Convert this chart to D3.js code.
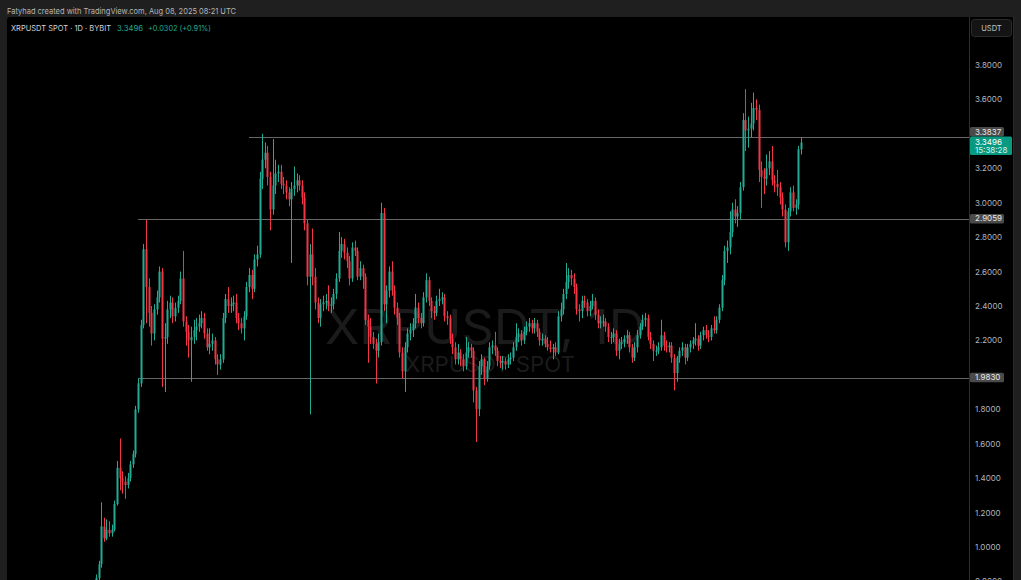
<!DOCTYPE html>
<html><head><meta charset="utf-8">
<script src="https://cdn.jsdelivr.net/npm/d3@7"></script>
<style>
body{margin:0;background:#1f1f1f;overflow:hidden;}
svg{display:block;font-family:Inter,"Liberation Sans",Arial,sans-serif;}
</style>
</head><body>
<svg id="chart" width="1021" height="580"></svg>
<script>
// ---- data (daily candles, XRPUSDT spot, Bybit) ----
const startDate = "2024-11-12";
const opens = [0.62,0.72,0.72,0.82,0.90,1.12,1.05,1.10,1.08,1.10,1.25,1.46,1.40,1.38,1.36,1.40,1.48,1.54,1.80,1.95,
2.29,2.73,2.51,2.36,2.24,2.38,2.45,2.60,2.21,2.22,2.38,2.42,2.34,2.39,2.43,2.56,2.31,2.25,2.20,2.22,
2.26,2.28,2.30,2.33,2.24,2.16,2.18,2.20,2.09,2.06,2.09,2.33,2.44,2.40,2.41,2.42,2.33,2.30,2.27,2.34,
2.51,2.58,2.50,2.67,2.70,3.14,3.25,3.29,3.15,2.96,3.10,3.17,3.18,3.11,3.10,3.06,3.02,3.08,3.10,3.13,
3.10,3.03,2.88,2.57,2.70,2.57,2.42,2.33,2.41,2.42,2.43,2.40,2.41,2.47,2.56,2.72,2.76,2.71,2.66,2.56,
2.74,2.72,2.57,2.62,2.57,2.32,2.28,2.22,2.18,2.14,2.19,2.94,2.41,2.49,2.60,2.49,2.39,2.33,2.13,2.02,
2.16,2.24,2.26,2.30,2.39,2.33,2.30,2.45,2.55,2.43,2.37,2.36,2.43,2.44,2.45,2.34,2.33,2.21,2.16,2.09,
2.13,2.09,2.05,2.13,2.16,2.14,1.91,1.80,2.05,2.09,1.98,2.05,2.16,2.17,2.14,2.08,2.07,2.08,2.06,2.09,
2.10,2.16,2.22,2.24,2.20,2.25,2.28,2.30,2.27,2.30,2.25,2.20,2.21,2.18,2.16,2.15,2.16,2.13,2.34,2.38,
2.47,2.54,2.58,2.56,2.51,2.38,2.37,2.43,2.42,2.37,2.40,2.43,2.35,2.30,2.31,2.31,2.28,2.22,2.22,2.24,
2.14,2.18,2.19,2.21,2.23,2.16,2.10,2.16,2.23,2.28,2.32,2.33,2.22,2.18,2.14,2.14,2.16,2.23,2.17,2.16,
2.17,2.10,2.01,2.10,2.14,2.16,2.10,2.16,2.18,2.20,2.21,2.17,2.23,2.26,2.23,2.22,2.27,2.26,2.32,2.39,
2.55,2.72,2.74,2.83,2.96,2.92,2.94,3.09,3.48,3.42,3.43,3.46,3.55,3.54,3.19,3.15,3.14,3.20,3.24,3.13,
3.11,3.09,3.03,2.96,2.77,2.95,3.06,2.97,2.99,3.31];
const highs = [0.77,0.78,0.84,0.92,1.26,1.17,1.16,1.15,1.13,1.27,1.50,1.63,1.44,1.41,1.43,1.50,1.56,1.82,1.98,2.32,
2.76,2.90,2.56,2.40,2.41,2.49,2.63,2.62,2.30,2.43,2.46,2.45,2.42,2.46,2.60,2.72,2.34,2.29,2.28,2.32,
2.33,2.35,2.37,2.36,2.27,2.27,2.24,2.22,2.12,2.12,2.36,2.47,2.51,2.45,2.46,2.47,2.36,2.33,2.37,2.54,
2.62,2.61,2.70,2.75,3.18,3.40,3.35,3.33,3.18,3.37,3.25,3.22,3.22,3.15,3.13,3.09,3.12,3.21,3.17,3.16,
3.13,3.06,2.90,2.76,2.85,2.62,2.45,2.44,2.46,2.47,2.52,2.45,2.50,2.59,2.83,2.80,2.79,2.74,2.69,2.77,
2.78,2.74,2.66,2.64,2.59,2.35,2.33,2.25,2.21,2.24,3.00,2.97,2.52,2.63,2.66,2.52,2.42,2.36,2.16,2.19,
2.27,2.30,2.33,2.47,2.42,2.36,2.48,2.59,2.57,2.45,2.40,2.46,2.50,2.48,2.47,2.37,2.35,2.24,2.19,2.18,
2.15,2.12,2.22,2.19,2.18,2.16,1.93,2.08,2.12,2.10,2.08,2.19,2.20,2.25,2.16,2.11,2.11,2.10,2.12,2.13,
2.19,2.30,2.27,2.26,2.28,2.31,2.33,2.32,2.33,2.32,2.27,2.24,2.23,2.22,2.20,2.18,2.19,2.37,2.42,2.50,
2.65,2.62,2.61,2.59,2.53,2.41,2.46,2.46,2.44,2.43,2.47,2.45,2.38,2.34,2.35,2.33,2.30,2.25,2.27,2.26,
2.21,2.22,2.23,2.26,2.25,2.18,2.19,2.26,2.30,2.35,2.36,2.35,2.25,2.20,2.17,2.19,2.32,2.25,2.20,2.19,
2.19,2.12,2.11,2.16,2.19,2.18,2.18,2.20,2.22,2.30,2.23,2.25,2.28,2.29,2.26,2.29,2.34,2.34,2.41,2.58,
2.75,2.78,2.95,3.00,3.02,2.98,3.12,3.52,3.66,3.50,3.58,3.64,3.60,3.57,3.24,3.20,3.28,3.30,3.33,3.16,
3.19,3.12,3.06,2.99,2.97,3.09,3.10,3.02,3.33,3.38];
const lows = [0.60,0.68,0.70,0.80,0.88,1.03,1.04,1.06,1.06,1.09,1.24,1.33,1.31,1.28,1.34,1.38,1.46,1.52,1.78,1.93,
2.27,2.30,2.28,2.17,2.20,2.35,2.42,1.93,1.90,2.18,2.33,2.30,2.31,2.36,2.41,2.28,2.17,2.10,1.96,2.18,
2.20,2.25,2.27,2.21,2.14,2.12,2.14,2.06,2.00,2.03,2.07,2.30,2.36,2.36,2.37,2.30,2.26,2.24,2.20,2.32,
2.48,2.44,2.48,2.63,2.68,3.08,3.20,3.10,2.84,2.93,3.05,3.12,3.08,3.05,3.02,2.98,2.65,3.04,3.06,3.07,
2.99,2.84,2.52,1.77,2.52,2.38,2.30,2.28,2.37,2.38,2.37,2.36,2.38,2.44,2.54,2.68,2.67,2.62,2.52,2.54,
2.69,2.55,2.55,2.50,2.29,2.07,2.18,2.15,1.95,2.10,2.17,2.37,2.30,2.45,2.46,2.35,2.29,2.10,1.98,1.90,
2.13,2.20,2.22,2.27,2.30,2.27,2.28,2.42,2.40,2.33,2.32,2.34,2.40,2.41,2.31,2.29,2.18,2.12,2.06,2.06,
2.05,2.02,2.03,2.10,2.10,1.84,1.61,1.76,2.00,1.94,1.96,2.03,2.12,2.11,2.05,2.04,2.03,2.03,2.04,2.06,
2.08,2.14,2.19,2.17,2.18,2.23,2.25,2.24,2.24,2.22,2.17,2.17,2.16,2.14,2.13,2.09,2.11,2.12,2.31,2.35,
2.44,2.50,2.52,2.47,2.35,2.31,2.33,2.39,2.34,2.34,2.38,2.32,2.27,2.27,2.28,2.25,2.19,2.18,2.19,2.11,
2.09,2.15,2.16,2.18,2.13,2.07,2.08,2.13,2.21,2.26,2.28,2.20,2.15,2.08,2.11,2.12,2.14,2.14,2.13,2.13,
2.07,1.91,1.96,2.07,2.11,2.06,2.08,2.13,2.15,2.17,2.14,2.15,2.20,2.21,2.19,2.20,2.24,2.24,2.30,2.37,
2.52,2.65,2.70,2.80,2.88,2.86,2.90,3.07,3.30,3.32,3.38,3.42,3.48,3.12,2.97,3.05,3.10,3.16,3.10,3.06,
3.04,2.99,2.92,2.74,2.72,2.92,2.95,2.93,2.96,3.28];
const closes = [0.72,0.72,0.82,0.90,1.12,1.05,1.10,1.08,1.10,1.25,1.46,1.40,1.38,1.36,1.40,1.48,1.54,1.80,1.95,2.29,
2.73,2.51,2.36,2.24,2.38,2.45,2.60,2.21,2.22,2.38,2.42,2.34,2.39,2.43,2.56,2.31,2.25,2.20,2.22,2.26,
2.28,2.30,2.33,2.24,2.16,2.18,2.20,2.09,2.06,2.09,2.33,2.44,2.40,2.41,2.42,2.33,2.30,2.27,2.34,2.51,
2.58,2.50,2.67,2.70,3.14,3.25,3.29,3.15,2.96,3.10,3.17,3.18,3.11,3.10,3.06,3.02,3.08,3.10,3.13,3.10,
3.03,2.88,2.57,2.70,2.57,2.42,2.33,2.41,2.42,2.43,2.40,2.41,2.47,2.56,2.72,2.76,2.71,2.66,2.56,2.74,
2.72,2.57,2.62,2.57,2.32,2.28,2.22,2.18,2.14,2.19,2.94,2.41,2.49,2.60,2.49,2.39,2.33,2.13,2.02,2.16,
2.24,2.26,2.30,2.39,2.33,2.30,2.45,2.55,2.43,2.37,2.36,2.43,2.44,2.45,2.34,2.33,2.21,2.16,2.09,2.13,
2.09,2.05,2.13,2.16,2.14,1.91,1.80,2.05,2.09,1.98,2.05,2.16,2.17,2.14,2.08,2.07,2.08,2.06,2.09,2.10,
2.16,2.22,2.24,2.20,2.25,2.28,2.30,2.27,2.30,2.25,2.20,2.21,2.18,2.16,2.15,2.16,2.13,2.34,2.38,2.47,
2.54,2.58,2.56,2.51,2.38,2.37,2.43,2.42,2.37,2.40,2.43,2.35,2.30,2.31,2.31,2.28,2.22,2.22,2.24,2.14,
2.18,2.19,2.21,2.23,2.16,2.10,2.16,2.23,2.28,2.32,2.33,2.22,2.18,2.14,2.14,2.16,2.23,2.17,2.16,2.17,
2.10,2.01,2.10,2.14,2.16,2.10,2.16,2.18,2.20,2.21,2.17,2.23,2.26,2.23,2.22,2.27,2.26,2.32,2.39,2.55,
2.72,2.74,2.83,2.96,2.92,2.94,3.09,3.48,3.42,3.43,3.46,3.55,3.54,3.19,3.15,3.14,3.20,3.24,3.13,3.11,
3.09,3.03,2.96,2.77,2.95,3.06,2.97,2.99,3.31,3.3496];

// tick labels shown on the price scale (3.4 and 2.0 are covered by price tags in the original)
const yTicks = [0.8,1.0,1.2,1.4,1.6,1.8,2.2,2.4,2.6,2.8,3.0,3.2,3.6,3.8];
const levelPrices = [3.3837, 2.9059, 1.9830];
const levelStartDates = ["2025-01-11", "2024-11-30", "2024-11-30"];
const lastPrice = 3.3496;
const countdown = "15:38:28";
const headerSymbol = "XRPUSDT SPOT · 1D · BYBIT";
const headerPrice = "3.3496";
const headerChange = "+0.0302 (+0.91%)";
const creditText = "Fatyhad created with TradingView.com, Aug 08, 2025 08:21 UTC";

// ---- drawing ----
const UP = "#22ab94", DOWN = "#f23645";
const svg = d3.select("#chart");
const W = 1021, H = 580;
const panel = {x0: 7, y0: 17, x1: 1014, axisX: 969};

const parse = d3.utcParse("%Y-%m-%d");
const t0 = parse(startDate);
const data = closes.map((c, i) => ({date: d3.utcDay.offset(t0, i), o: opens[i], h: highs[i], l: lows[i], c}));

const x = d3.scaleUtc()
  .domain([t0, d3.utcDay.offset(t0, closes.length - 1)])
  .range([90.6, 800.8]);
const y = d3.scaleLinear().domain([1.0, 3.8]).range([547, 65]);

// background panel
svg.append("rect").attr("x", 0).attr("y", 0).attr("width", W).attr("height", H).attr("fill", "#1f1f1f");
svg.append("rect").attr("x", panel.x0).attr("y", panel.y0).attr("width", panel.x1 - panel.x0).attr("height", H)
  .attr("rx", 3).attr("fill", "#000");
svg.append("line").attr("x1", panel.axisX + 0.5).attr("x2", panel.axisX + 0.5).attr("y1", panel.y0).attr("y2", H)
  .attr("stroke", "#2e2e2e");
svg.append("line").attr("x1", panel.x1 - 0.5).attr("x2", panel.x1 - 0.5).attr("y1", panel.y0).attr("y2", H)
  .attr("stroke", "#2a2a2a");

// credit line
svg.append("text").attr("x", 7).attr("y", 14).attr("fill", "#b4b4b4").attr("font-size", 8)
  .attr("textLength", 229).attr("lengthAdjust", "spacingAndGlyphs").text(creditText);

svg.append("defs").append("clipPath").attr("id", "plotclip")
  .append("rect").attr("x", panel.x0).attr("y", panel.y0).attr("width", panel.axisX - panel.x0).attr("height", H - panel.y0);

const plot = svg.append("g").attr("clip-path", "url(#plotclip)");

// watermark
plot.append("text").attr("x", 485).attr("y", 344).attr("text-anchor", "middle")
  .attr("font-size", 48).attr("fill", "#1b1b1b").attr("textLength", 320).attr("lengthAdjust", "spacingAndGlyphs")
  .text("XRPUSDT, 1D");
plot.append("text").attr("x", 490).attr("y", 372).attr("text-anchor", "middle")
  .attr("font-size", 21).attr("fill", "#1b1b1b").attr("textLength", 170).attr("lengthAdjust", "spacingAndGlyphs")
  .text("XRPUSDT SPOT");

// horizontal levels
plot.selectAll("line.level").data(levelPrices).join("line").attr("class", "level")
  .attr("x1", (d, i) => x(parse(levelStartDates[i])))
  .attr("x2", panel.axisX)
  .attr("y1", d => Math.round(y(d)) + 0.5).attr("y2", d => Math.round(y(d)) + 0.5)
  .attr("stroke", "#666666").attr("stroke-width", 1);

// candles
const bw = 2;
const cg = plot.append("g");
const candle = cg.selectAll("g").data(data).join("g");
candle.append("line")
  .attr("x1", d => Math.round(x(d.date)) + 0.5).attr("x2", d => Math.round(x(d.date)) + 0.5)
  .attr("y1", d => y(d.h)).attr("y2", d => y(d.l))
  .attr("stroke", d => d.c >= d.o ? UP : DOWN).attr("stroke-width", 1);
candle.append("rect")
  .attr("x", d => Math.round(x(d.date)) - 0.5).attr("width", bw)
  .attr("y", d => y(Math.max(d.o, d.c)))
  .attr("height", d => Math.max(1, Math.abs(y(d.o) - y(d.c))))
  .attr("fill", d => d.c >= d.o ? UP : DOWN);

// header
const hdr = svg.append("g").attr("font-size", 7.5);
hdr.append("text").attr("x", 11).attr("y", 31).attr("fill", "#d1d4dc")
  .attr("textLength", 100).attr("lengthAdjust", "spacingAndGlyphs").text(headerSymbol);
hdr.append("text").attr("x", 117).attr("y", 31).attr("fill", UP)
  .attr("textLength", 26).attr("lengthAdjust", "spacingAndGlyphs").text(headerPrice);
hdr.append("text").attr("x", 148).attr("y", 31).attr("fill", UP)
  .attr("textLength", 63).attr("lengthAdjust", "spacingAndGlyphs").text(headerChange);

// right axis
const axis = d3.axisRight(y).tickValues(yTicks).tickFormat(d3.format(".4f")).tickSize(0).tickPadding(6);
const ag = svg.append("g").attr("transform", `translate(${panel.axisX},0)`).call(axis);
ag.select(".domain").remove();
ag.selectAll("text").attr("fill", "#b2b5be").attr("font-size", 8).attr("font-family", "Inter,'Liberation Sans',sans-serif");

// USDT button
svg.append("rect").attr("x", 971.5).attr("y", 19.5).attr("width", 40).attr("height", 17).attr("rx", 3)
  .attr("fill", "#141414").attr("stroke", "#2c2c2c");
svg.append("text").attr("x", 991.5).attr("y", 31).attr("text-anchor", "middle").attr("fill", "#c8c8c8")
  .attr("font-size", 7.5).text("USDT");

// price tags: last price first, level tags stacked so they do not collide with it
const tags = svg.append("g");
const ly = y(lastPrice);
const lastTop = ly - 6, lastBottom = ly + 12.5;
levelPrices.forEach(p => {
  let top = y(p) - 5;
  if (top + 9.5 > lastTop && top < lastBottom) top = lastTop - 9.5;
  tags.append("rect").attr("x", 970).attr("y", top).attr("width", 34).attr("height", 9.5).attr("rx", 1.5).attr("fill", "#4a4a4a");
  tags.append("text").attr("x", 975).attr("y", top + 7.5).attr("fill", "#e8e8e8").attr("font-size", 8).text(d3.format(".4f")(p));
});
tags.append("rect").attr("x", 970).attr("y", lastTop).attr("width", 42).attr("height", lastBottom - lastTop).attr("rx", 1.5).attr("fill", "#089981");
tags.append("text").attr("x", 975).attr("y", ly + 2.5).attr("fill", "#ffffff").attr("font-size", 8).text(d3.format(".4f")(lastPrice));
tags.append("text").attr("x", 975).attr("y", ly + 10.5).attr("fill", "#d8f0ea").attr("font-size", 8).text(countdown);
</script>
</body></html>
